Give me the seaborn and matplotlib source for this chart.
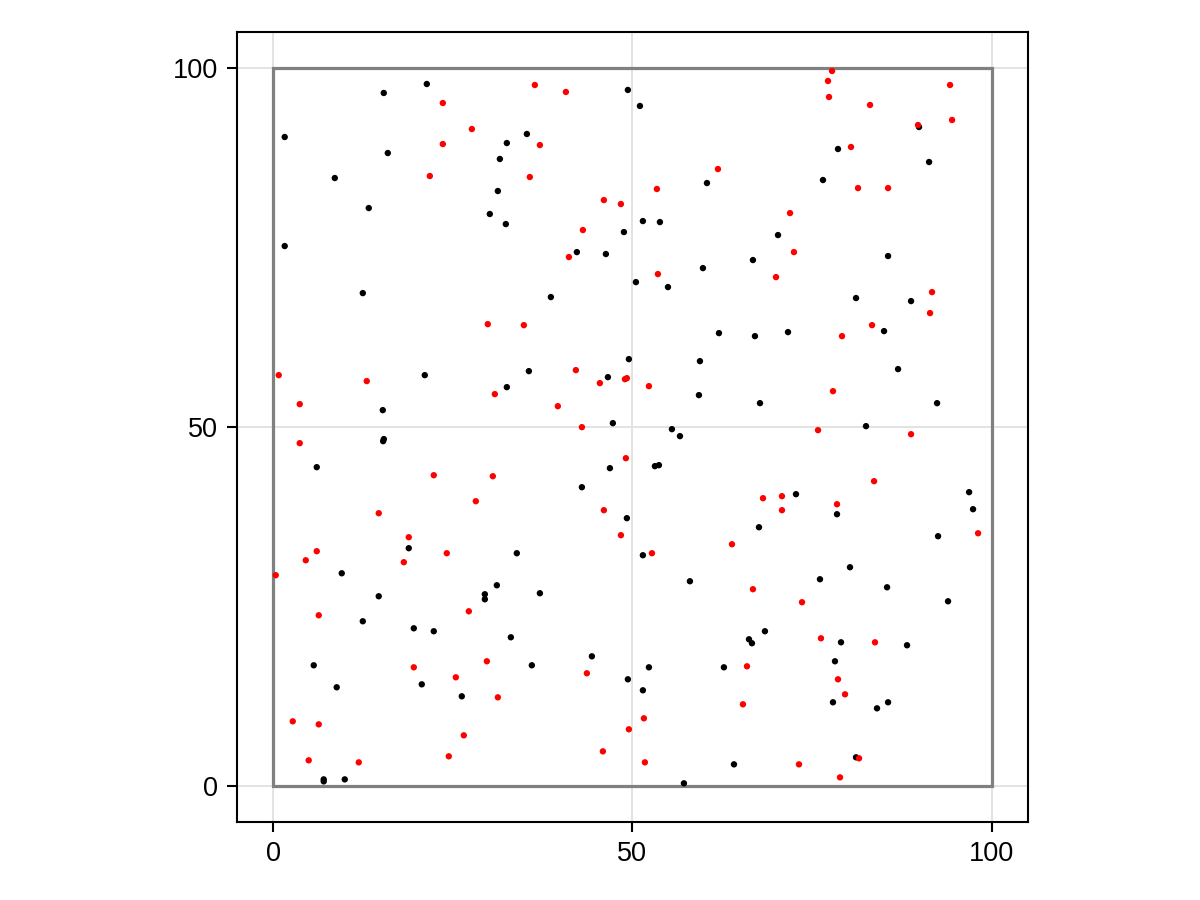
import pandas as pd
import matplotlib
matplotlib.use("Agg")
import matplotlib.pyplot as plt
import seaborn as sns

# boundary of the domain
bounds = [0, 100]
ticks = [0, 50, 100]

# black points
black_x = [21.38, 15.39, 49.37, 51.05, 1.60, 35.31, 32.52, 15.95, 31.55, 78.62,
           91.30, 8.57, 60.38, 76.53, 31.27, 13.30, 30.15, 32.38, 51.46, 53.83,
           48.82, 1.60, 42.27, 46.31, 70.27, 85.59, 66.78, 59.82, 50.49, 54.95,
           12.47, 38.65, 81.13, 88.79, 62.05, 67.06, 71.66, 85.03, 49.51, 59.40,
           35.59, 21.10, 86.98, 46.59, 32.52, 59.26, 15.25, 67.76, 92.41, 15.40,
           15.30, 47.28, 55.50, 82.52, 56.62, 6.06, 46.87, 53.13, 53.69, 42.97,
           72.77, 96.87, 97.42, 78.48, 49.23, 67.62, 92.55, 18.87, 33.91, 51.46,
           9.54, 80.29, 58.01, 76.11, 31.13, 85.45, 29.46, 29.46, 37.12, 14.69,
           93.94, 12.47, 19.57, 22.35, 33.08, 68.45, 66.23, 66.64, 79.04, 88.23,
           44.36, 5.64, 36.00, 52.30, 62.74, 78.20, 49.37, 8.84, 20.68, 51.46,
           26.25, 77.92, 85.59, 84.05, 64.14, 81.13, 7.03, 7.03, 9.96, 57.17,
           89.90]
black_y = [97.73, 96.48, 96.90, 94.67, 90.35, 90.77, 89.51, 88.12, 87.29, 88.68,
           86.87, 84.64, 83.94, 84.36, 82.83, 80.46, 79.63, 78.23, 78.65, 78.51,
           77.12, 75.17, 74.33, 74.06, 76.70, 73.78, 73.22, 72.10, 70.15, 69.46,
           68.62, 68.07, 67.93, 67.51, 63.05, 62.63, 63.19, 63.33, 59.43, 59.15,
           57.76, 57.20, 58.04, 56.92, 55.53, 54.42, 52.33, 53.30, 53.30, 48.30,
           48.01, 50.52, 49.68, 50.10, 48.71, 44.39, 44.25, 44.53, 44.67, 41.60,
           40.63, 40.91, 38.54, 37.84, 37.29, 36.03, 34.78, 33.11, 32.41, 32.13,
           29.62, 30.46, 28.51, 28.79, 27.95, 27.67, 26.70, 26.00, 26.84, 26.42,
           25.72, 22.94, 21.96, 21.55, 20.71, 21.55, 20.43, 19.88, 20.01, 19.60,
           18.06, 16.81, 16.81, 16.53, 16.53, 17.37, 14.86, 13.75, 14.16, 13.33,
           12.49, 11.66, 11.66, 10.82, 3.02, 4.00, 0.93, 0.65, 0.93, 0.38,
           91.74]

# red points
red_x = [77.79, 77.23, 77.37, 83.08, 94.22, 94.50, 89.76, 80.43, 36.42, 40.74,
         23.61, 27.65, 23.61, 37.12, 21.80, 35.72, 53.41, 46.03, 48.40, 61.91,
         43.11, 41.16, 53.55, 81.41, 85.59, 71.94, 72.49, 69.99, 91.71, 91.43,
         83.36, 79.18, 29.87, 34.89, 0.77, 13.02, 42.13, 45.47, 48.96, 49.23,
         52.30, 30.85, 3.69, 39.62, 42.97, 3.69, 49.09, 22.35, 30.57, 28.20,
         14.69, 46.03, 18.87, 48.40, 6.06, 4.53, 24.16, 18.18, 52.72, 0.35,
         77.92, 75.84, 88.79, 83.64, 68.18, 70.82, 70.82, 78.48, 98.12, 63.86,
         6.34, 27.23, 19.57, 29.74, 25.42, 31.27, 2.72, 6.34, 26.53, 4.94,
         11.91, 24.44, 66.78, 65.95, 43.66, 65.39, 51.60, 49.51, 45.89, 51.74,
         73.61, 76.25, 83.77, 78.62, 79.60, 73.19, 81.55, 78.90]
red_y = [99.54, 98.15, 95.92, 94.81, 97.59, 92.72, 92.02, 88.96, 97.59, 96.62,
         95.08, 91.46, 89.37, 89.23, 84.92, 84.78, 83.11, 81.57, 81.02, 85.89,
         77.40, 73.64, 71.27, 83.24, 83.24, 79.76, 74.33, 70.85, 68.76, 65.84,
         64.16, 62.63, 64.30, 64.16, 57.20, 56.37, 57.90, 56.09, 56.64, 56.78,
         55.67, 54.56, 53.16, 52.88, 49.96, 47.73, 45.64, 43.27, 43.13, 39.65,
         37.98, 38.40, 34.64, 34.92, 32.69, 31.43, 32.41, 31.16, 32.41, 29.35,
         54.97, 49.54, 48.98, 42.44, 40.07, 40.35, 38.40, 39.23, 35.19, 33.66,
         23.77, 24.33, 16.53, 17.37, 15.14, 12.35, 9.01, 8.59, 7.06, 3.58,
         3.30, 4.14, 27.40, 16.67, 15.70, 11.38, 9.43, 7.90, 4.83, 3.30,
         25.59, 20.57, 20.01, 14.86, 12.77, 3.02, 3.86, 1.21]

df = pd.DataFrame({
    "x": black_x + red_x,
    "y": black_y + red_y,
    "group": ["black"] * len(black_x) + ["red"] * len(red_x),
})

sns.set_theme(style="white")
plt.rcParams["font.family"] = ["Liberation Sans", "DejaVu Sans"]

fig = plt.figure(figsize=(12, 9), dpi=100)
ax = fig.add_axes([0.1975, 0.0867, 0.659, 0.878])

# domain box
lo, hi = bounds
ax.plot([lo, hi, hi, lo, lo], [lo, lo, hi, hi, lo], color="#808080",
        lw=2.3, zorder=2, solid_joinstyle="miter")

sns.scatterplot(data=df, x="x", y="y", hue="group",
                palette={"black": "black", "red": "red"},
                s=21, linewidth=0, legend=False, ax=ax, zorder=3)

ax.set_xlim(-5, 105)
ax.set_ylim(-5, 105)
ax.set_aspect("equal")
ax.set_xticks(ticks)
ax.set_yticks(ticks)
ax.set_xlabel("")
ax.set_ylabel("")
ax.grid(True, color="#e3e3e3", lw=1.4)
ax.set_axisbelow(True)
for sp in ax.spines.values():
    sp.set_color("black")
    sp.set_linewidth(1.5)
ax.tick_params(axis="both", direction="out", length=7, width=1.5,
               color="black", labelsize=19.5, labelcolor="black",
               bottom=True, left=True)
ax.tick_params(axis="x", pad=7)
ax.tick_params(axis="y", pad=7)

fig.savefig("out.png", dpi=100)
